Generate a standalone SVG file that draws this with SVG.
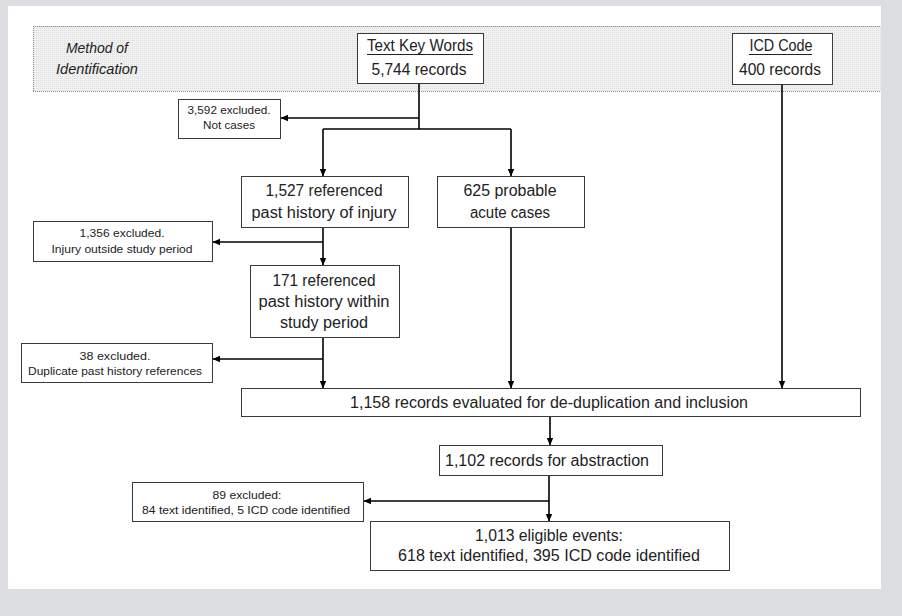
<svg xmlns="http://www.w3.org/2000/svg" width="902" height="616" viewBox="0 0 902 616">
<defs>
<pattern id="dots" width="2" height="2" patternUnits="userSpaceOnUse">
<rect width="2" height="2" fill="#f1f1f1"/>
<rect width="1" height="1" fill="#dedede"/>
</pattern>
<marker id="ah" markerUnits="userSpaceOnUse" markerWidth="8" markerHeight="8" viewBox="0 0 8 8" refX="7" refY="4" orient="auto">
<path d="M0,0.8 L7.5,4 L0,7.2 Z" fill="#000"/>
</marker>
<style>
.box{fill:#fff;stroke:#3a3a3a;stroke-width:1}
.t{font-family:"Liberation Sans",Arial,sans-serif;font-size:16px;fill:#222;text-anchor:middle}
.s{font-family:"Liberation Sans",Arial,sans-serif;font-size:11.5px;fill:#222;text-anchor:middle}
.i{font-family:"Liberation Sans",Arial,sans-serif;font-size:14px;font-style:italic;fill:#222;text-anchor:middle}
.c{fill:none;stroke:#000;stroke-width:1.6}
.a{fill:none;stroke:#000;stroke-width:1.6;marker-end:url(#ah)}
.dl{fill:none;stroke:#8a8a8a;stroke-width:1;stroke-dasharray:1 1}
</style>
</defs>
<rect x="0" y="0" width="902" height="616" fill="#dcdde0"/>
<rect x="8" y="6" width="873" height="583" fill="#fff"/>
<g id="band">
<rect x="33" y="26" width="848" height="65" fill="url(#dots)"/>
<line class="dl" x1="33" y1="26.5" x2="881" y2="26.5"/>
<line class="dl" x1="33" y1="91.5" x2="881" y2="91.5"/>
<line class="dl" x1="33.5" y1="26" x2="33.5" y2="92"/>
<text class="i" x="97" y="53" textLength="62" lengthAdjust="spacingAndGlyphs">Method of</text>
<text class="i" x="97" y="74" textLength="82" lengthAdjust="spacingAndGlyphs">Identification</text>
</g>
<g id="connectors">
<polyline class="c" points="419,83 419,129"/>
<polyline class="a" points="419,118 281,118"/>
<polyline class="c" points="323,129 511,129"/>
<polyline class="a" points="323,129 323,176"/>
<polyline class="a" points="511,129 511,176"/>
<polyline class="a" points="323,227 323,265"/>
<polyline class="a" points="323,242 213,242"/>
<polyline class="a" points="323,337 323,388"/>
<polyline class="a" points="323,359 213,359"/>
<polyline class="a" points="511,227 511,388"/>
<polyline class="a" points="782,84 782,388"/>
<polyline class="a" points="550,417 550,445"/>
<polyline class="a" points="549,475 549,521"/>
<polyline class="a" points="549,501 364,501"/>
</g>
<g id="n-text-key-words">
<rect class="box" x="357.5" y="33.5" width="126" height="50"/>
<text class="t" x="420" y="51" textLength="106" lengthAdjust="spacingAndGlyphs">Text Key Words</text>
<line x1="367" y1="54.5" x2="473" y2="54.5" stroke="#222" stroke-width="1"/>
<text class="t" x="419" y="75" textLength="95" lengthAdjust="spacingAndGlyphs">5,744 records</text>
</g>
<g id="n-icd-code">
<rect class="box" x="732.5" y="33.5" width="100" height="51"/>
<text class="t" x="781" y="51" textLength="63" lengthAdjust="spacingAndGlyphs">ICD Code</text>
<line x1="749" y1="54.5" x2="812" y2="54.5" stroke="#222" stroke-width="1"/>
<text class="t" x="780" y="75" textLength="82" lengthAdjust="spacingAndGlyphs">400 records</text>
</g>
<g id="n-excl-3592">
<rect class="box" x="178.5" y="99.5" width="102" height="39"/>
<text class="s" x="229" y="114" textLength="83" lengthAdjust="spacingAndGlyphs">3,592 excluded.</text>
<text class="s" x="229" y="129" textLength="52" lengthAdjust="spacingAndGlyphs">Not cases</text>
</g>
<g id="n-1527">
<rect class="box" x="241.5" y="176.5" width="167" height="51"/>
<text class="t" x="324" y="196" textLength="117" lengthAdjust="spacingAndGlyphs">1,527 referenced</text>
<text class="t" x="324" y="218" textLength="145" lengthAdjust="spacingAndGlyphs">past history of injury</text>
</g>
<g id="n-625">
<rect class="box" x="437.5" y="176.5" width="147" height="51"/>
<text class="t" x="510" y="196" textLength="93" lengthAdjust="spacingAndGlyphs">625 probable</text>
<text class="t" x="510" y="218" textLength="80" lengthAdjust="spacingAndGlyphs">acute cases</text>
</g>
<g id="n-excl-1356">
<rect class="box" x="33.5" y="221.5" width="179" height="40"/>
<text class="s" x="122" y="237" textLength="85" lengthAdjust="spacingAndGlyphs">1,356 excluded.</text>
<text class="s" x="122" y="253" textLength="141" lengthAdjust="spacingAndGlyphs">Injury outside study period</text>
</g>
<g id="n-171">
<rect class="box" x="250.5" y="265.5" width="149" height="72"/>
<text class="t" x="324" y="286" textLength="103" lengthAdjust="spacingAndGlyphs">171 referenced</text>
<text class="t" x="324" y="307" textLength="131" lengthAdjust="spacingAndGlyphs">past history within</text>
<text class="t" x="324" y="328" textLength="88" lengthAdjust="spacingAndGlyphs">study period</text>
</g>
<g id="n-excl-38">
<rect class="box" x="21.5" y="343.5" width="191" height="39"/>
<text class="s" x="115" y="360" textLength="71" lengthAdjust="spacingAndGlyphs">38 excluded.</text>
<text class="s" x="115" y="375" textLength="174" lengthAdjust="spacingAndGlyphs">Duplicate past history references</text>
</g>
<g id="n-1158">
<rect class="box" x="241.5" y="388.5" width="619" height="28"/>
<text class="t" x="549" y="408" textLength="398" lengthAdjust="spacingAndGlyphs">1,158 records evaluated for de-duplication and inclusion</text>
</g>
<g id="n-1102">
<rect class="box" x="439.5" y="445.5" width="223" height="30"/>
<text class="t" x="547" y="466" textLength="204" lengthAdjust="spacingAndGlyphs">1,102 records for abstraction</text>
</g>
<g id="n-excl-89">
<rect class="box" x="132.5" y="482.5" width="231" height="39"/>
<text class="s" x="247" y="499" textLength="69" lengthAdjust="spacingAndGlyphs">89 excluded:</text>
<text class="s" x="246" y="514" textLength="208" lengthAdjust="spacingAndGlyphs">84 text identified, 5 ICD code identified</text>
</g>
<g id="n-1013">
<rect class="box" x="370.5" y="521.5" width="359" height="49"/>
<text class="t" x="549" y="541" textLength="148" lengthAdjust="spacingAndGlyphs">1,013 eligible events:</text>
<text class="t" x="549" y="561" textLength="302" lengthAdjust="spacingAndGlyphs">618 text identified, 395 ICD code identified</text>
</g>
</svg>
